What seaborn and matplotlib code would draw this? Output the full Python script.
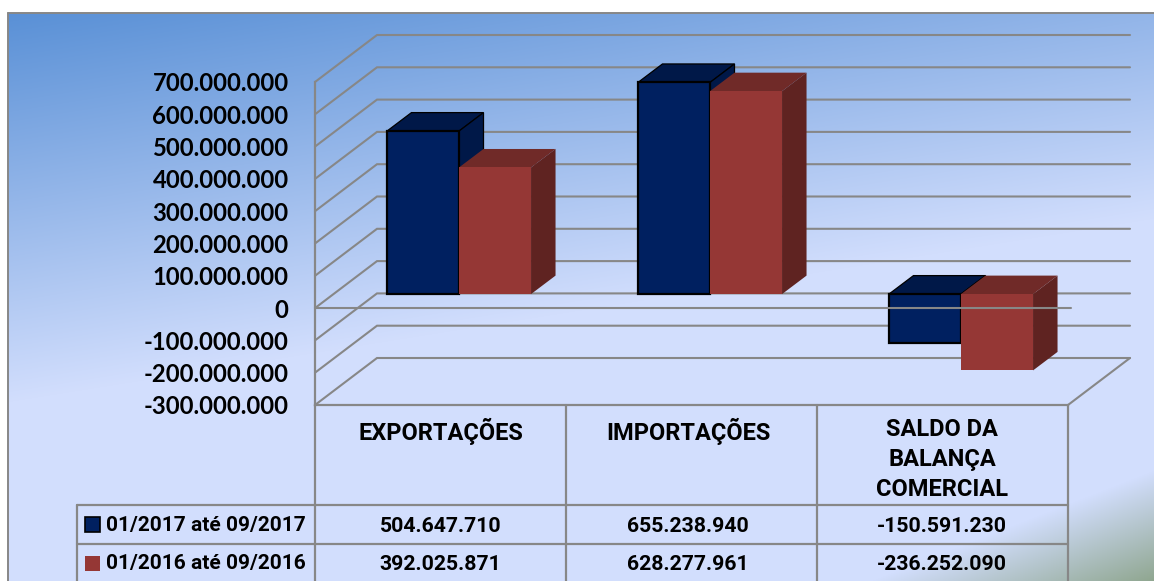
import numpy as np
import pandas as pd
import matplotlib
matplotlib.use('Agg')
import matplotlib.pyplot as plt
from matplotlib.colors import to_rgb
from matplotlib.patches import Rectangle
from matplotlib.ticker import FuncFormatter
import seaborn as sns

# --- 1. Data ---

categorias = ['EXPORTAÇÕES', 'IMPORTAÇÕES', 'SALDO DA\nBALANÇA\nCOMERCIAL']
periodos = ['01/2017 até 09/2017', '01/2016 até 09/2016']
valores_2017 = [504647710, 655238940, -150591230]
valores_2016 = [392025871, 628277961, -236252090]
ticks_y = [700e6, 600e6, 500e6, 400e6, 300e6, 200e6, 100e6, 0, -100e6, -200e6, -300e6]

df = pd.DataFrame({
    'categoria': categorias * 2,
    'periodo': [periodos[0]] * 3 + [periodos[1]] * 3,
    'valor': valores_2017 + valores_2016,
})

# --- 2. Layout helpers ---

W, H = 1154, 581
AZUL, VERMELHO = '#002060', '#953735'
AZUL_TOPO, AZUL_LADO = '#001848', '#001848'
VERM_TOPO, VERM_LADO = '#702A28', '#5F2321'
CINZA = '#878787'
PX_POR_VALOR = 32.3 / 100e6
PX_POR_CAT = 251.0
FONTE_TAB = 'Roboto'
TAM_CAT = 17
TAM_NUM = 15.3


def axes_px(x0, y0, x1, y1, zorder):
    new_ax = fig.add_axes([x0 / W, 1 - y1 / H, (x1 - x0) / W, (y1 - y0) / H], zorder=zorder)
    new_ax.patch.set_alpha(0)
    return new_ax


def fmt_br(v, pos=None):
    return f'{int(v):,}'.replace(',', '.')


sns.set_theme(style='white')
plt.rcParams['font.weight'] = 'bold'
fig = plt.figure(figsize=(W / 100, H / 100), dpi=100, facecolor='white')

# --- 3. Background gradient and table (pixel axes) ---

bg = axes_px(0, 0, W, H, 0)
bg.axis('off')

xs, ys = np.meshgrid(np.arange(8, W), np.arange(13, H))
t = np.clip((ys - 13 + 0.16 * xs) / 390, 0, 1)[..., None]
img = (1 - t) * np.array(to_rgb('#5990D6')) + t * np.array(to_rgb('#D2DEFD'))
verde = np.clip((xs - 870) / 284 + (ys - 581) / 111, 0, 1)[..., None]
img = (1 - verde) * img + verde * np.array(to_rgb('#8FA68F'))
bg.imshow(img, extent=[8, W, H, 13], aspect='auto', interpolation='bilinear')
bg.set_xlim(0, W)
bg.set_ylim(H, 0)

bg.plot([8, W], [13, 13], color=CINZA, lw=1.4)
bg.plot([8, 8], [13, H], color=CINZA, lw=1.4)

# table grid
for x in [315, 566, 817, 1068]:
    bg.plot([x, x], [405, H], color=CINZA, lw=1.6)
bg.plot([77, 77], [505, H], color=CINZA, lw=1.6)
for y in [505, 544]:
    bg.plot([77, 1068], [y, y], color=CINZA, lw=1.6)

centros = [440.5, 688, 942]
for cx, nome in zip(centros, categorias):
    bg.text(cx, 418, nome, ha='center', va='top', fontsize=TAM_CAT,
            family=FONTE_TAB, color='black', linespacing=1.4)
for cx, v17, v16 in zip(centros, valores_2017, valores_2016):
    bg.text(cx, 526, fmt_br(v17), ha='center', va='center', fontsize=TAM_NUM,
            family=FONTE_TAB, color='black')
    bg.text(cx, 564, fmt_br(v16), ha='center', va='center', fontsize=TAM_NUM,
            family=FONTE_TAB, color='black')

# legend keys in the table
bg.add_patch(Rectangle((85, 517), 15, 15, facecolor=AZUL, edgecolor='black', lw=1.2))
bg.add_patch(Rectangle((85, 556), 15, 15, facecolor=VERMELHO, edgecolor='none'))
bg.text(106, 526, periodos[0], ha='left', va='center', fontsize=15,
        family=FONTE_TAB, color='black')
bg.text(106, 564, periodos[1], ha='left', va='center', fontsize=15,
        family=FONTE_TAB, color='black')

# --- 4. Walls and gridlines (front plane axes) ---

ax_wall = axes_px(315, 82, 1068, 405, 1)
ax_wall.set_xlim(-0.5, 2.5)
ax_wall.set_ylim(-300e6, 700e6)
ax_wall.set_yticks(ticks_y)
ax_wall.yaxis.set_major_formatter(FuncFormatter(fmt_br))
ax_wall.set_xticks([])
ax_wall.tick_params(axis='y', length=0, pad=19, labelsize=17.2, labelfontfamily='Lato',
                    labelcolor='black')
plt.setp(ax_wall.get_yticklabels(), va='center_baseline')
sns.despine(ax=ax_wall, top=True, right=True, left=False, bottom=False)
for lado in ['left', 'bottom']:
    ax_wall.spines[lado].set_color(CINZA)
    ax_wall.spines[lado].set_linewidth(1.6)

prof_x = 62 / PX_POR_CAT
prof_y = 47 / PX_POR_VALOR
for v in ticks_y:
    ax_wall.plot([-0.5, -0.5 + prof_x, 2.5 + prof_x], [v, v + prof_y, v + prof_y],
                 color=CINZA, lw=1.5, clip_on=False, solid_joinstyle='miter')
ax_wall.plot([2.5, 2.5 + prof_x], [-300e6, -300e6 + prof_y], color=CINZA, lw=1.5, clip_on=False)

# --- 5. Bars (plane pushed into the depth) ---

ax = axes_px(333.5, 68, 1086.5, 391, 2)
sns.barplot(data=df, x='categoria', y='valor', hue='periodo', hue_order=periodos,
            order=categorias, palette=[AZUL, VERMELHO], width=0.574, gap=0, saturation=1,
            legend=False, ax=ax)
ax.set_xlim(-0.5, 2.5)
ax.set_ylim(-300e6, 700e6)
ax.axis('off')

bar_dx = 24.5 / PX_POR_CAT
bar_dy = 18.5 / PX_POR_VALOR
estilos = [(AZUL_TOPO, AZUL_LADO, 3), (VERM_TOPO, VERM_LADO, 5)]
for cont, (c_topo, c_lado, z) in zip(ax.containers, estilos):
    azul = z == 3
    for bar in cont:
        x0 = bar.get_x()
        x1 = x0 + bar.get_width()
        alto = max(bar.get_y(), bar.get_y() + bar.get_height())
        baixo = min(bar.get_y(), bar.get_y() + bar.get_height())
        borda = dict(edgecolor='black', linewidth=0.9) if azul else dict(edgecolor='none')
        ax.fill([x0, x0 + bar_dx, x1 + bar_dx, x1], [alto, alto + bar_dy, alto + bar_dy, alto],
                facecolor=c_topo, zorder=z, clip_on=False, **borda)
        ax.fill([x1, x1 + bar_dx, x1 + bar_dx, x1], [alto, alto + bar_dy, baixo + bar_dy, baixo],
                facecolor=c_lado, zorder=z, clip_on=False, **borda)
        bar.set_zorder(z + 1)
        bar.set_clip_on(False)
        if azul:
            bar.set_edgecolor('black')
            bar.set_linewidth(1.6)
        else:
            bar.set_edgecolor('none')
            bar.set_linewidth(0)

# --- 6. Axis line crossing at zero, over the bars ---

ax_top = axes_px(315, 82, 1068, 405, 3)
ax_top.set_xlim(-0.5, 2.5)
ax_top.set_ylim(-300e6, 700e6)
ax_top.axis('off')
ax_top.plot([-0.5, 2.51], [0, 0], color=CINZA, lw=1.5, clip_on=False)

fig.savefig('out.png', dpi=100)
